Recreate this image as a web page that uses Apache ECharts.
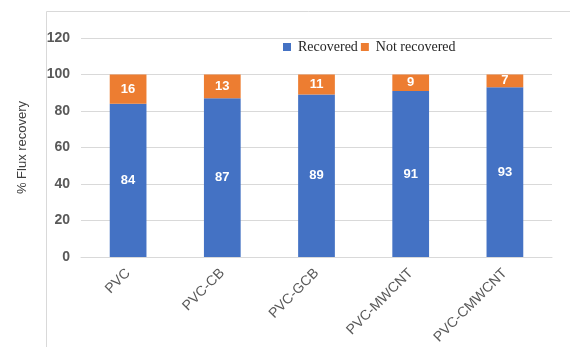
<!DOCTYPE html>
<html>
<head>
<meta charset="utf-8">
<script src="https://cdn.jsdelivr.net/npm/echarts@6/dist/echarts.min.js"></script>
<style>
  html, body { margin: 0; padding: 0; background: #fff; }
  #chart { width: 570px; height: 347px; }
</style>
</head>
<body>
<div id="chart"></div>
<script>
// Membrane samples and their flux recovery split (%)
const categories = ['PVC', 'PVC-CB', 'PVC-GCB', 'PVC-MWCNT', 'PVC-CMWCNT'];
const recovered = [84, 87, 89, 91, 93];
const notRecovered = [16, 13, 11, 9, 7];
const seriesNames = ['Recovered', 'Not recovered'];
const yTitle = '% Flux recovery';

const chart = echarts.init(document.getElementById('chart'), null, { renderer: 'canvas' });

const valueLabel = {
  show: true,
  position: 'inside',
  color: '#ffffff',
  fontFamily: 'Liberation Sans, Arial, sans-serif',
  fontWeight: 'bold',
  fontSize: 13
};

chart.setOption({
  animation: false,
  backgroundColor: '#ffffff',
  graphic: [{
    type: 'rect',
    left: 44,
    top: 9,
    shape: { width: 600, height: 400 },
    style: { fill: 'none', stroke: '#d9d9d9', lineWidth: 1 },
    silent: true
  }],
  legend: {
    left: 278,
    top: 35,
    itemWidth: 8,
    itemHeight: 8,
    itemGap: 3,
    icon: 'rect',
    textStyle: {
      fontFamily: 'Liberation Serif, Times New Roman, serif',
      fontSize: 14,
      color: '#262626',
      padding: [0, 0, 0, 2]
    },
    data: seriesNames
  },
  grid: { left: 81, right: 18, top: 38, bottom: 90, containLabel: false },
  xAxis: {
    type: 'category',
    data: categories,
    axisLine: { show: true, lineStyle: { color: '#d9d9d9', width: 1 } },
    axisTick: { show: false },
    axisLabel: {
      rotate: 45,
      margin: 14,
      color: '#595959',
      fontFamily: 'Liberation Sans, Arial, sans-serif',
      fontSize: 14
    }
  },
  yAxis: {
    type: 'value',
    min: 0,
    max: 120,
    interval: 20,
    name: yTitle,
    nameLocation: 'middle',
    nameGap: 52,
    nameTextStyle: {
      color: '#404040',
      fontFamily: 'Liberation Sans, Arial, sans-serif',
      fontSize: 13
    },
    axisLine: { show: false },
    axisTick: { show: false },
    axisLabel: {
      margin: 11,
      color: '#595959',
      fontFamily: 'Liberation Sans, Arial, sans-serif',
      fontWeight: 'bold',
      fontSize: 14
    },
    splitLine: { lineStyle: { color: '#d9d9d9', width: 1 } }
  },
  series: [
    {
      name: seriesNames[0],
      type: 'bar',
      stack: 'flux',
      data: recovered,
      barWidth: '39%',
      itemStyle: { color: '#4472C4' },
      label: valueLabel
    },
    {
      name: seriesNames[1],
      type: 'bar',
      stack: 'flux',
      data: notRecovered,
      barWidth: '39%',
      itemStyle: { color: '#ED7D31' },
      label: valueLabel
    }
  ]
});
</script>
</body>
</html>
